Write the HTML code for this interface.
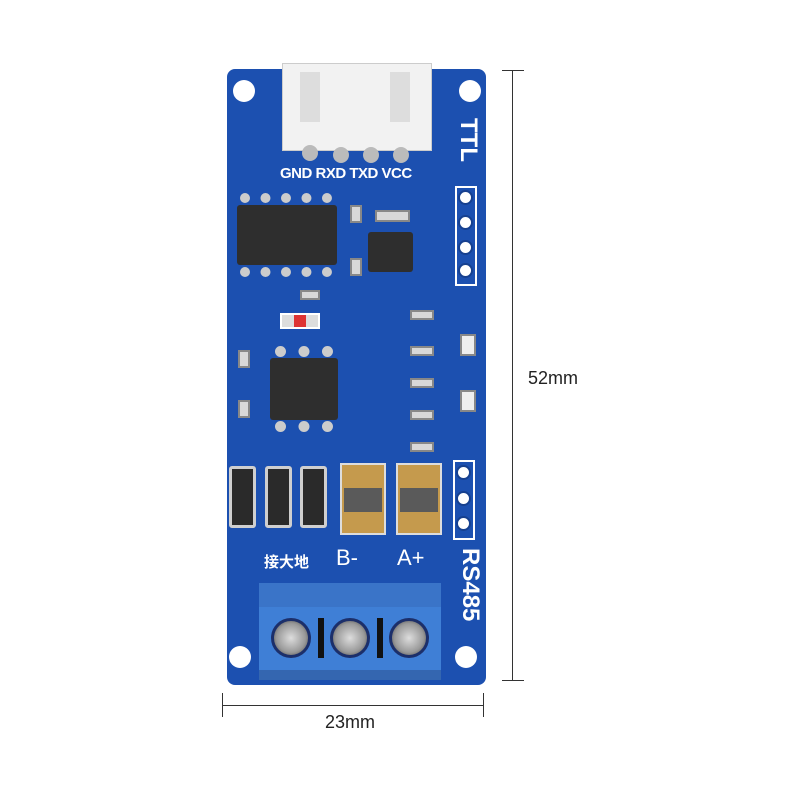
<!DOCTYPE html>
<html><head><style>
body{margin:0;width:800px;height:800px;background:#fff;position:relative;overflow:hidden;font-family:"Liberation Sans","Noto Sans CJK SC",sans-serif}
div{position:absolute;box-sizing:border-box}
.hole{width:22px;height:22px;border-radius:50%;background:#fff}
.chip{background:#2e2e2e;border-radius:3px}
.t{color:#fff;font-weight:bold}
.pin{width:15px;height:15px;border-radius:50%;background:#fff;border:2px solid #16408f}
.sm{background:#d8d8d8;border:2px solid #888}
.dio{background:#2a2a2a;border:3px solid #cfcfcf;border-radius:3px}
.screw{width:40px;height:40px;border-radius:50%;background:radial-gradient(#ddd,#999 60%,#333);border:3px solid #1c2f6a}
</style></head><body>
<div style="left:227px;top:69px;width:259px;height:616px;background:#1c50b0;border-radius:8px"></div>
<div class="hole" style="left:233px;top:80px"></div>
<div class="hole" style="left:459px;top:80px"></div>
<div class="hole" style="left:229px;top:646px"></div>
<div class="hole" style="left:455px;top:646px"></div>
<div style="left:282px;top:63px;width:150px;height:88px;background:#f2f2f2;border:1px solid #ccc"></div>
<div style="left:300px;top:72px;width:20px;height:50px;background:#ddd"></div>
<div style="left:390px;top:72px;width:20px;height:50px;background:#ddd"></div>
<div style="left:302px;top:145px;width:16px;height:16px;border-radius:50%;background:#bbb"></div>
<div style="left:333px;top:147px;width:16px;height:16px;border-radius:50%;background:#bbb"></div>
<div style="left:363px;top:147px;width:16px;height:16px;border-radius:50%;background:#bbb"></div>
<div style="left:393px;top:147px;width:16px;height:16px;border-radius:50%;background:#bbb"></div>
<div class="t" style="left:280px;top:165px;font-size:15px;letter-spacing:-0.5px">GND RXD TXD VCC</div>
<div class="t" style="top:118px;font-size:24px;transform:rotate(90deg);transform-origin:left top;left:482px">TTL</div>
<div style="left:455px;top:186px;width:22px;height:100px;border:2px solid #fff"></div>
<div class="pin" style="left:458px;top:190px"></div>
<div class="pin" style="left:458px;top:215px"></div>
<div class="pin" style="left:458px;top:240px"></div>
<div class="pin" style="left:458px;top:263px"></div>
<div class="chip" style="left:237px;top:205px;width:100px;height:60px"></div>
<div style="left:240px;top:193px;width:92px;height:84px;border-top:10px dotted #ccc;border-bottom:10px dotted #ccc"></div>
<div class="chip" style="left:368px;top:232px;width:45px;height:40px"></div>
<div class="sm" style="left:375px;top:210px;width:35px;height:12px"></div>
<div class="chip" style="left:270px;top:358px;width:68px;height:62px"></div>
<div style="left:275px;top:346px;width:58px;height:86px;border-top:11px dotted #ccc;border-bottom:11px dotted #ccc"></div>
<div style="left:280px;top:313px;width:40px;height:16px;background:#ddd;border:2px solid #fff"></div>
<div style="left:294px;top:315px;width:12px;height:12px;background:#d33"></div>
<div class="sm" style="left:238px;top:350px;width:12px;height:18px"></div>
<div class="sm" style="left:238px;top:400px;width:12px;height:18px"></div>
<div class="sm" style="left:350px;top:205px;width:12px;height:18px"></div>
<div class="sm" style="left:350px;top:258px;width:12px;height:18px"></div>
<div class="sm" style="left:300px;top:290px;width:20px;height:10px"></div>
<div class="sm" style="left:410px;top:310px;width:24px;height:10px"></div>
<div class="sm" style="left:410px;top:346px;width:24px;height:10px"></div>
<div class="sm" style="left:410px;top:378px;width:24px;height:10px"></div>
<div class="sm" style="left:410px;top:410px;width:24px;height:10px"></div>
<div class="sm" style="left:410px;top:442px;width:24px;height:10px"></div>
<div class="sm" style="left:460px;top:334px;width:16px;height:22px;background:#eee"></div>
<div class="sm" style="left:460px;top:390px;width:16px;height:22px;background:#eee"></div>
<div class="dio" style="left:229px;top:466px;width:27px;height:62px"></div>
<div class="dio" style="left:265px;top:466px;width:27px;height:62px"></div>
<div class="dio" style="left:300px;top:466px;width:27px;height:62px"></div>
<div style="left:340px;top:463px;width:46px;height:72px;background:#c59a4d;border:2px solid #ddd"></div>
<div style="left:344px;top:488px;width:38px;height:24px;background:#5a5a5a"></div>
<div style="left:396px;top:463px;width:46px;height:72px;background:#c59a4d;border:2px solid #ddd"></div>
<div style="left:400px;top:488px;width:38px;height:24px;background:#5a5a5a"></div>
<div style="left:453px;top:460px;width:22px;height:80px;border:2px solid #fff"></div>
<div class="pin" style="left:456px;top:465px"></div>
<div class="pin" style="left:456px;top:491px"></div>
<div class="pin" style="left:456px;top:516px"></div>
<div class="t" style="left:264px;top:551px;font-size:15px">接大地</div>
<div class="t" style="left:336px;top:545px;font-size:22px;font-weight:normal">B-</div>
<div class="t" style="left:397px;top:545px;font-size:22px;font-weight:normal">A+</div>
<div class="t" style="left:484px;top:548px;font-size:24px;transform:rotate(90deg);transform-origin:left top">RS485</div>
<div style="left:259px;top:583px;width:182px;height:97px;background:#3f7fd6;border-top:24px solid #3a74c8"></div>
<div style="left:259px;top:670px;width:182px;height:10px;background:#3466b0"></div>
<div class="screw" style="left:271px;top:618px"></div>
<div class="screw" style="left:330px;top:618px"></div>
<div class="screw" style="left:389px;top:618px"></div>
<div style="left:318px;top:618px;width:6px;height:40px;background:#111"></div>
<div style="left:377px;top:618px;width:6px;height:40px;background:#111"></div>
<div style="left:512px;top:70px;width:1px;height:610px;background:#333"></div>
<div style="left:502px;top:70px;width:22px;height:1px;background:#333"></div>
<div style="left:502px;top:680px;width:22px;height:1px;background:#333"></div>
<div style="left:528px;top:368px;font-size:18px;color:#222">52mm</div>
<div style="left:222px;top:705px;width:262px;height:1px;background:#333"></div>
<div style="left:222px;top:693px;width:1px;height:24px;background:#333"></div>
<div style="left:483px;top:693px;width:1px;height:24px;background:#333"></div>
<div style="left:325px;top:712px;font-size:18px;color:#222">23mm</div>
</body></html>
